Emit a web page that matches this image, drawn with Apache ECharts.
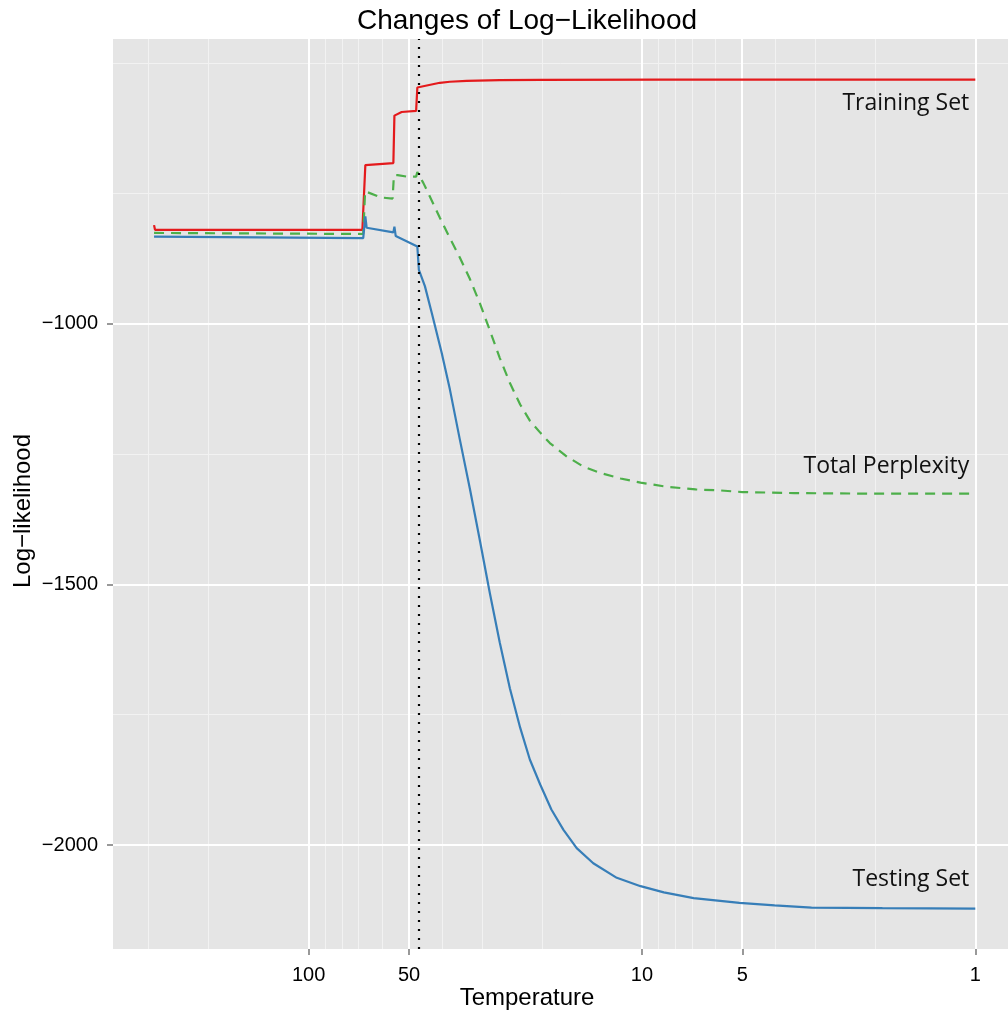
<!DOCTYPE html>
<html>
<head>
<meta charset="utf-8">
<title>Changes of Log-Likelihood</title>
<script src="https://cdn.jsdelivr.net/npm/echarts@6/dist/echarts.min.js"></script>
<style>
html, body { margin: 0; padding: 0; background: #fff; }
#main { width: 1008px; height: 1013px; }
</style>
</head>
<body>
<div id="main"></div>
<script>
// temperatures and log-likelihood values
var trainT  = [291, 289, 69.0, 67.6, 55.7, 55.3, 52.6, 47.6, 47.2, 40.4, 37.7, 33.6, 26.7, 20.2, 8.8, 1];
var trainLL = [-811, -820, -820, -696, -692, -601, -594, -592, -547, -538, -536, -534.5, -533, -532.5, -532, -532];

var perpT  = [291, 289, 68.6, 67.7, 60.8, 56.0, 55.5, 54.1, 50.8, 47.6, 47.2, 45.3, 43.3, 40.4, 37.7, 35.2, 32.8, 30.6, 28.6, 26.7,
              24.9, 23.2, 21.7, 20.2, 18.9, 16.8, 15.0, 13.4, 11.6, 10.1, 8.4, 6.9, 5.8, 5.0, 3.5, 2.2, 1];
var perpLL = [-826, -828, -828, -746, -758, -760, -716, -715, -718, -718, -709, -730, -756, -797, -836, -873, -915, -962, -1013, -1066,
              -1114, -1155, -1186, -1209, -1229, -1255, -1274, -1286, -1297, -1305, -1313, -1318, -1320, -1323, -1325, -1326, -1326];

var testT  = [291, 289, 68.6, 67.6, 67.0, 55.7, 55.3, 54.8, 47.2, 46.7, 44.8, 42.7, 39.9, 37.7, 35.2, 32.8, 30.6, 28.6, 26.7, 24.9,
              23.2, 21.7, 20.2, 18.7, 17.2, 15.7, 14.0, 11.9, 10.1, 8.6, 7.0, 5.1, 4.0, 3.1, 1.9, 1];
var testLL = [-833, -836, -836, -794, -816, -825, -814, -832, -852, -897, -928, -980, -1056, -1126, -1222, -1318, -1418, -1517, -1612, -1700,
              -1775, -1836, -1884, -1932, -1971, -2006, -2035, -2063, -2079, -2091, -2102, -2111, -2116, -2120, -2121, -2122];

var xTicks = [100, 50, 10, 5, 1];
var xMinor = [300, 200, 90, 80, 70, 60, 40, 30, 20, 9, 8, 7, 6, 4, 3, 2];
var yTicks = [-1000, -1500, -2000];
var yMinor = [-500, -750, -1250, -1750];
var chosenT = 47.2;

function pairs(ts, vals) {
	var out = [];
	for (var i = 0; i < ts.length; i++) {
		out.push([Math.log10(ts[i]), vals[i]]);
	}
	return out;
}

function gridSeries(values, isX, style) {
	return {
		type: 'line',
		data: [],
		silent: true,
		z: 1,
		markLine: {
			z: 1,
			silent: true,
			animation: false,
			symbol: ['none', 'none'],
			label: { show: false },
			lineStyle: style,
			emphasis: { disabled: true },
			data: values.map(function (v) {
				return isX ? { xAxis: Math.log10(v) } : { yAxis: v };
			})
		}
	};
}

function labelPoint(text, lastValue, dy) {
	return {
		symbol: 'circle',
		symbolSize: 1,
		silent: true,
		animation: false,
		itemStyle: { color: 'rgba(0,0,0,0)' },
		data: [{ coord: [0, lastValue] }],
		label: {
			show: true,
			formatter: text,
			position: 'inside',
			align: 'right',
			verticalAlign: 'middle',
			offset: [-6, dy],
			color: '#111',
			fontFamily: 'Open Sans',
			fontSize: 23
		}
	};
}

var myChart = echarts.init(document.getElementById('main'));

var tickText = { color: '#000', fontFamily: 'Liberation Sans', fontSize: 20 };

var option = {
	animation: false,
	backgroundColor: '#fff',
	grid: {
		left: 113, right: 0, top: 39, bottom: 64,
		show: true, backgroundColor: '#E5E5E5', borderWidth: 0
	},
	xAxis: {
		type: 'value',
		inverse: true,
		min: -0.0981,
		max: 2.587,
		// line kept (invisible) so that ticks are drawn
		axisLine: { show: true, onZero: false, lineStyle: { color: 'rgba(0,0,0,0)' } },
		splitLine: { show: false },
		axisTick: {
			show: true, length: 6, customValues: xTicks.map(Math.log10),
			lineStyle: { color: '#7F7F7F', width: 1.6 }
		},
		axisLabel: {
			customValues: xTicks.map(Math.log10),
			margin: 16,
			formatter: function (v) { return String(Math.round(Math.pow(10, v))); },
			color: tickText.color, fontFamily: tickText.fontFamily, fontSize: tickText.fontSize
		}
	},
	yAxis: {
		type: 'value',
		min: -2199.5,
		max: -454,
		axisLine: { show: true, onZero: false, lineStyle: { color: 'rgba(0,0,0,0)' } },
		splitLine: { show: false },
		axisTick: {
			show: true, length: 6, customValues: yTicks,
			lineStyle: { color: '#7F7F7F', width: 1.6 }
		},
		axisLabel: {
			customValues: yTicks,
			margin: 15,
			formatter: function (v) { return String(v).replace('-', '\u2212'); },
			color: tickText.color, fontFamily: tickText.fontFamily, fontSize: tickText.fontSize
		}
	},
	graphic: [
		{
			type: 'text', x: 527, y: 21, silent: true,
			style: { text: 'Changes of Log\u2212Likelihood', fill: '#000', font: '28px "Liberation Sans"', align: 'center', verticalAlign: 'middle' }
		},
		{
			type: 'text', x: 527, y: 998, silent: true,
			style: { text: 'Temperature', fill: '#000', font: '24px "Liberation Sans"', align: 'center', verticalAlign: 'middle' }
		},
		{
			type: 'text', x: 23, y: 511, rotation: Math.PI / 2, silent: true,
			style: { text: 'Log\u2212likelihood', fill: '#000', font: '24px "Liberation Sans"', align: 'center', verticalAlign: 'middle' }
		}
	],
	series: [
		gridSeries(xMinor, true, { color: '#F2F2F2', width: 1, type: 'solid' }),
		gridSeries(yMinor, false, { color: '#F2F2F2', width: 1, type: 'solid' }),
		gridSeries(xTicks, true, { color: '#FFFFFF', width: 2, type: 'solid' }),
		gridSeries(yTicks, false, { color: '#FFFFFF', width: 2, type: 'solid' }),
		{
			name: 'Training Set',
			type: 'line', z: 3, symbol: 'none', silent: true,
			data: pairs(trainT, trainLL),
			lineStyle: { color: '#E41A1C', width: 2.2 },
			markPoint: labelPoint('Training Set', trainLL[trainLL.length - 1], 24)
		},
		{
			name: 'Total Perplexity',
			type: 'line', z: 3, symbol: 'none', silent: true,
			data: pairs(perpT, perpLL),
			lineStyle: { color: '#4DAF4A', width: 2.2, type: [10, 7] },
			markPoint: labelPoint('Total Perplexity', perpLL[perpLL.length - 1], -27)
		},
		{
			name: 'Testing Set',
			type: 'line', z: 3, symbol: 'none', silent: true,
			data: pairs(testT, testLL),
			lineStyle: { color: '#377EB8', width: 2.2 },
			markPoint: labelPoint('Testing Set', testLL[testLL.length - 1], -29)
		},
		{
			type: 'line', data: [], silent: true, z: 5,
			markLine: {
				z: 6,
				silent: true, animation: false,
				symbol: ['none', 'none'],
				label: { show: false },
				lineStyle: { color: '#000', width: 2.2, type: [2, 7] },
				data: [{ xAxis: Math.log10(chosenT) }]
			}
		}
	]
};

myChart.setOption(option);
</script>
</body>
</html>
